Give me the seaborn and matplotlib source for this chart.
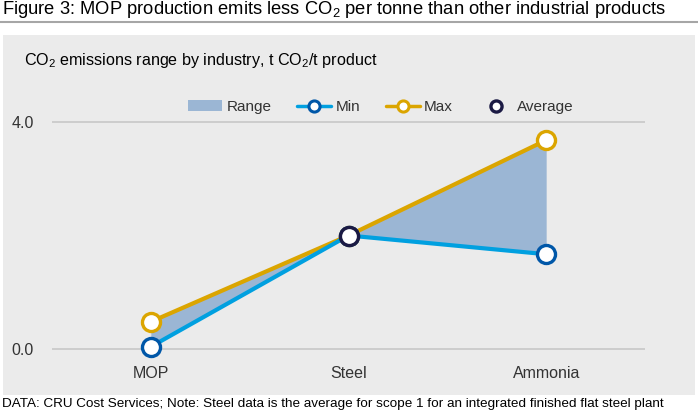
import matplotlib
matplotlib.use('Agg')
import pandas as pd
import numpy as np
import matplotlib.pyplot as plt
import seaborn as sns
from matplotlib.patches import Rectangle, Patch
from matplotlib.lines import Line2D

# data
industries = ['MOP', 'Steel', 'Ammonia']
min_vals = [0.04, 2.0, 1.67]
max_vals = [0.48, 2.0, 3.68]
avg_industry = ['Steel']
avg_vals = [2.0]
yticks = [0.0, 4.0]

df = pd.DataFrame({'industry': industries, 'min': min_vals, 'max': max_vals})
df_avg = pd.DataFrame({'industry': avg_industry, 'avg': avg_vals})

sns.set_style('white')
plt.rcParams['font.family'] = ['Liberation Sans', 'DejaVu Sans']
plt.rcParams['mathtext.fontset'] = 'custom'
plt.rcParams['mathtext.rm'] = 'Liberation Sans'
plt.rcParams['mathtext.it'] = 'Liberation Sans'

c_min = '#00a0e0'
c_min_edge = '#0057a8'
c_max = '#dba500'
c_avg = '#1b1a44'
c_fill = '#9bb6d4'
c_text = '#333333'

fig = plt.figure(figsize=(6.98, 4.11), dpi=100)
W, H = 698, 411

# grey panel and the title rule
fig.patches.append(Rectangle((3 / W, 1 - 395 / H), 692 / W, 360 / H,
                             transform=fig.transFigure, facecolor='#ebebeb',
                             edgecolor='none', zorder=-5))
fig.add_artist(Line2D([0, 1], [1 - 22 / H, 1 - 22 / H], color='#a6a6a6', lw=1.5))
fig.text(2 / W, 1 - 9 / H, 'Figure 3: MOP production emits less CO$_2$ per tonne than other industrial products',
         fontsize=13.2, va='center', ha='left', color='black')
fig.text(24 / W, 1 - 60 / H, 'CO$_2$ emissions range by industry, t CO$_2$/t product',
         fontsize=11.6, va='center', ha='left', color='black')
fig.text(2 / W, 1 - 404 / H,
         'DATA: CRU Cost Services; Note: Steel data is the average for scope 1 for an integrated finished flat steel plant',
         fontsize=9.7, va='center', ha='left', color='black')

ax = fig.add_axes([52 / W, 1 - 357.5 / H, 593 / W, 252.5 / H])
ax.set_facecolor('none')

x = np.arange(len(industries))
ax.fill_between(x, df['min'], df['max'], color=c_fill, lw=0, zorder=1)
sns.lineplot(data=df, x='industry', y='min', ax=ax, color=c_min, lw=3, marker='o',
             markersize=13, markerfacecolor='white', markeredgecolor=c_min_edge,
             markeredgewidth=2.4, zorder=3, clip_on=False)
sns.lineplot(data=df, x='industry', y='max', ax=ax, color=c_max, lw=3, marker='o',
             markersize=13, markerfacecolor='white', markeredgecolor=c_max,
             markeredgewidth=2.4, zorder=2, clip_on=False)
sns.scatterplot(data=df_avg, x='industry', y='avg', ax=ax, s=170, color='white',
                edgecolor=c_avg, linewidth=2.4, zorder=4, clip_on=False)

ax.set_xlim(-0.5, 2.5)
ax.set_ylim(-0.15, 4.3)
ax.set_yticks(yticks)
ax.set_yticklabels([f'{v:.1f}' for v in yticks])
ax.yaxis.grid(True, color='#c8c8c8', lw=1.2)
ax.set_axisbelow(True)
for s in ax.spines.values():
    s.set_visible(False)
ax.tick_params(axis='both', length=0, labelsize=11.5, labelcolor=c_text)
ax.tick_params(axis='x', pad=6)
ax.tick_params(axis='y', pad=13)
ax.set_xlabel('')
ax.set_ylabel('')

handles = [
    Patch(facecolor=c_fill, edgecolor='none'),
    Line2D([], [], color=c_min, lw=2.5, marker='o', markersize=8, markerfacecolor='white',
           markeredgecolor=c_min_edge, markeredgewidth=2.2),
    Line2D([], [], color=c_max, lw=2.5, marker='o', markersize=8, markerfacecolor='white',
           markeredgecolor=c_max, markeredgewidth=2.2),
    Line2D([], [], lw=0, marker='o', markersize=8, markerfacecolor='white',
           markeredgecolor=c_avg, markeredgewidth=2.4),
]
fig.legend(handles, ['Range', 'Min', 'Max', 'Average'], loc='center',
           bbox_to_anchor=(381 / W, 1 - 107 / H), ncol=4, frameon=False,
           fontsize=11, handlelength=2.2, handletextpad=0.3, columnspacing=1.7,
           labelcolor=c_text)

fig.savefig('out.png', dpi=100)
